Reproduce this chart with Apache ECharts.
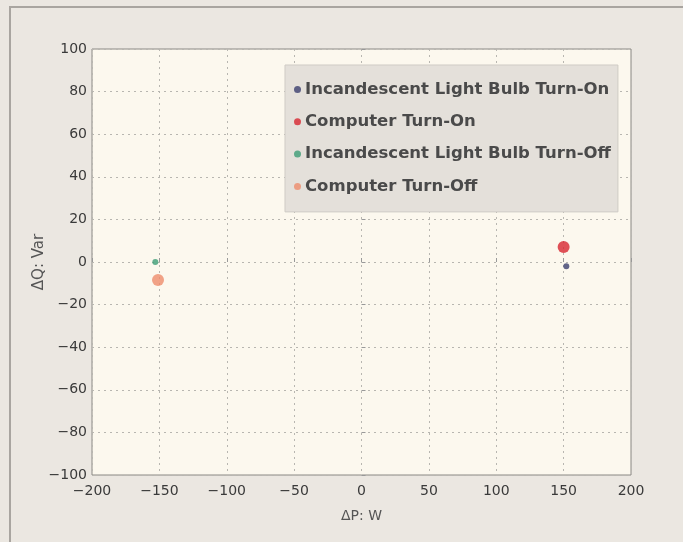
<!DOCTYPE html>
<html><head><meta charset="utf-8">
<script src="https://cdn.jsdelivr.net/npm/echarts@6/dist/echarts.min.js"></script>
<style>html,body{margin:0;padding:0;background:#ebe7e1;}#c{width:683px;height:542px;}</style>
</head><body><div id="c"></div>
<script>
const seriesNames = ['Incandescent Light Bulb Turn-On','Computer Turn-On','Incandescent Light Bulb Turn-Off','Computer Turn-Off'];
const bulbOn = [[152, -2]];
const computerOn = [[150, 7]];
const bulbOff = [[-153, 0]];
const computerOff = [[-151, -8.5]];
const xTicks = [-200,-150,-100,-50,0,50,100,150,200];
const yTicks = [-100,-80,-60,-40,-20,0,20,40,60,80,100];
const yAxisTitle = 'ΔQ: Var';
const xAxisTitle = 'ΔP: W';

const colors = ['#3b3f6e','#d7262f','#3c9c76','#ee8c6c'];
const sizes = [6,12,6,12];
const datas = [bulbOn, computerOn, bulbOff, computerOff];

const chart = echarts.init(document.getElementById('c'));
chart.setOption({
  backgroundColor: '#ebe7e1',
  animation: false,
  graphic: [{
    type:'rect', shape:{x:10,y:7,width:700,height:600},
    style:{fill:'none', stroke:'#a9a5a0', lineWidth:2}, z:-1
  }, {
    type:'text', x: 39, y: 262, rotation: Math.PI/2,
    style:{text: yAxisTitle, fontFamily:'DejaVu Sans', fontSize: 15, fill:'#555', align:'center', verticalAlign:'middle'}
  }],
  grid: {left: 92, right: 52, top: 49, bottom: 67, show: true, backgroundColor: '#fcf8ee', borderColor: '#8a8884', borderWidth: 1},
  legend: {
    orient: 'vertical', left: 285, top: 65,
    padding: [16, 7, 17, 9], itemGap: 15.3,
    backgroundColor: '#e4e0da', borderColor: '#cfcbc5', borderWidth: 1,
    itemWidth: 7, itemHeight: 7, itemStyle: {borderWidth: 0},
    textStyle: {fontFamily: 'DejaVu Sans', fontWeight: 'bold', fontSize: 16.5, color: '#4a4a4a', padding:[0,0,0,-1]},
    data: seriesNames.map((n,i)=>({name:n, icon:'circle'}))
  },
  xAxis: {
    type: 'value', min: -200, max: 200, interval: 50,
    name: xAxisTitle, nameLocation: 'middle', nameGap: 34,
    nameTextStyle: {fontFamily: 'DejaVu Sans', fontSize: 14, color: '#555'},
    axisLine: {show: false},
    axisTick: {inside: true, length: 4, lineStyle: {color: '#999'}},
    axisLabel: {fontFamily: 'DejaVu Sans', fontSize: 14, color: '#3a3a3a', margin: 9,
      formatter: v => xTicks.includes(v) ? String(v).replace('-', '\u2212') : ''},
    splitLine: {show: true, lineStyle: {type: [2,4], color: '#b8b6b0'}}
  },
  yAxis: {
    type: 'value', min: -100, max: 100, interval: 20,
    axisLine: {show: false},
    axisTick: {inside: true, length: 4, lineStyle: {color: '#999'}},
    axisLabel: {fontFamily: 'DejaVu Sans', fontSize: 14, color: '#3a3a3a', margin: 5,
      formatter: v => yTicks.includes(v) ? String(v).replace('-', '\u2212') : ''},
    splitLine: {show: true, lineStyle: {type: [2,4], color: '#b8b6b0'}}
  },
  series: seriesNames.map((n,i)=>({
    name: n, type: 'scatter', data: datas[i], symbol: 'circle', symbolSize: sizes[i],
    itemStyle: {color: colors[i]}
  }))
});
</script></body></html>
